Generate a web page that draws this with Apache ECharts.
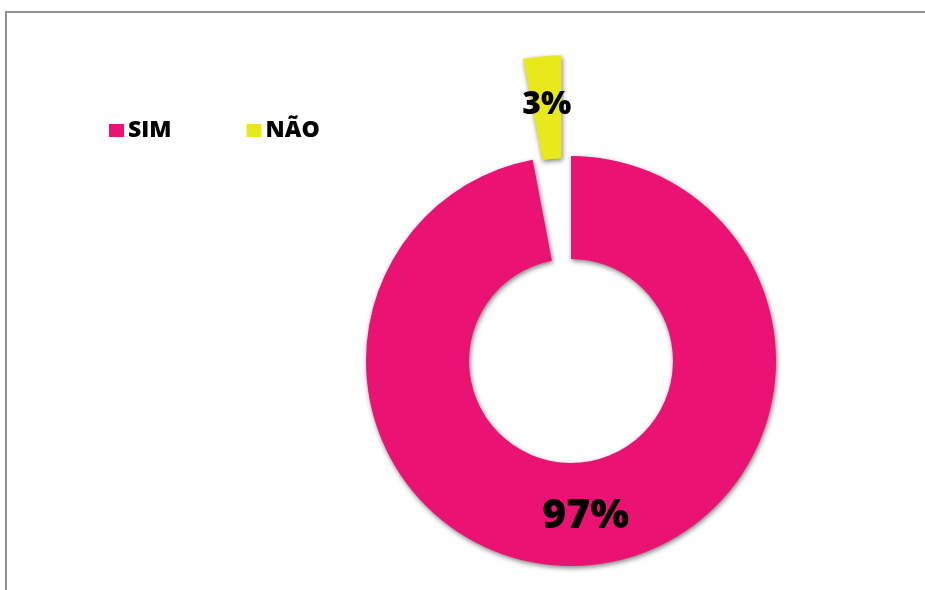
<!DOCTYPE html>
<html>
<head>
<meta charset="utf-8">
<script src="https://cdn.jsdelivr.net/npm/echarts@6/dist/echarts.min.js"></script>
<style>
html,body{margin:0;padding:0;background:#fff;}
#chart{width:925px;height:590px;}
</style>
</head>
<body>
<div id="chart"></div>
<script>
const categories = ['SIM', 'NÃO'];
const values = [97, 3];
const colors = ['#EA1272', '#E8E91C'];
const labelSizes = [41, 32];

const chart = echarts.init(document.getElementById('chart'), null, {renderer: 'canvas'});
const FONT = '"Open Sans", "Liberation Sans", sans-serif';

chart.setOption({
  animation: false,
  backgroundColor: '#ffffff',
  graphic: [{
    type: 'rect',
    shape: {x: 6, y: 12, width: 1000, height: 1000},
    style: {fill: 'none', stroke: '#8f8f8f', lineWidth: 2},
    silent: true
  }],
  legend: {
    left: 104,
    top: 114,
    icon: 'rect',
    itemWidth: 15,
    itemHeight: 13,
    itemGap: 75,
    selectedMode: false,
    data: categories,
    textStyle: {fontFamily: FONT, fontWeight: 900, fontSize: 23, color: '#000', padding: [0, 0, 0, -1]}
  },
  series: [{
    type: 'pie',
    center: [571, 361],
    radius: [102, 205],
    startAngle: 90,
    clockwise: true,
    selectedMode: 'single',
    selectedOffset: 101,
    emphasis: {disabled: true},
    avoidLabelOverlap: false,
    labelLine: {show: false},
    itemStyle: {
      shadowBlur: 5,
      shadowColor: 'rgba(0,0,0,0.5)',
      shadowOffsetX: 1,
      shadowOffsetY: 2
    },
    label: {
      show: true,
      position: 'inside',
      fontFamily: FONT,
      fontWeight: 900,
      color: '#000',
      formatter: p => p.value + '%'
    },
    data: categories.map((c, i) => ({
      name: c,
      value: values[i],
      selected: i === 1,
      itemStyle: {color: colors[i]},
      label: {fontSize: labelSizes[i]}
    }))
  }]
});
</script>
</body>
</html>
